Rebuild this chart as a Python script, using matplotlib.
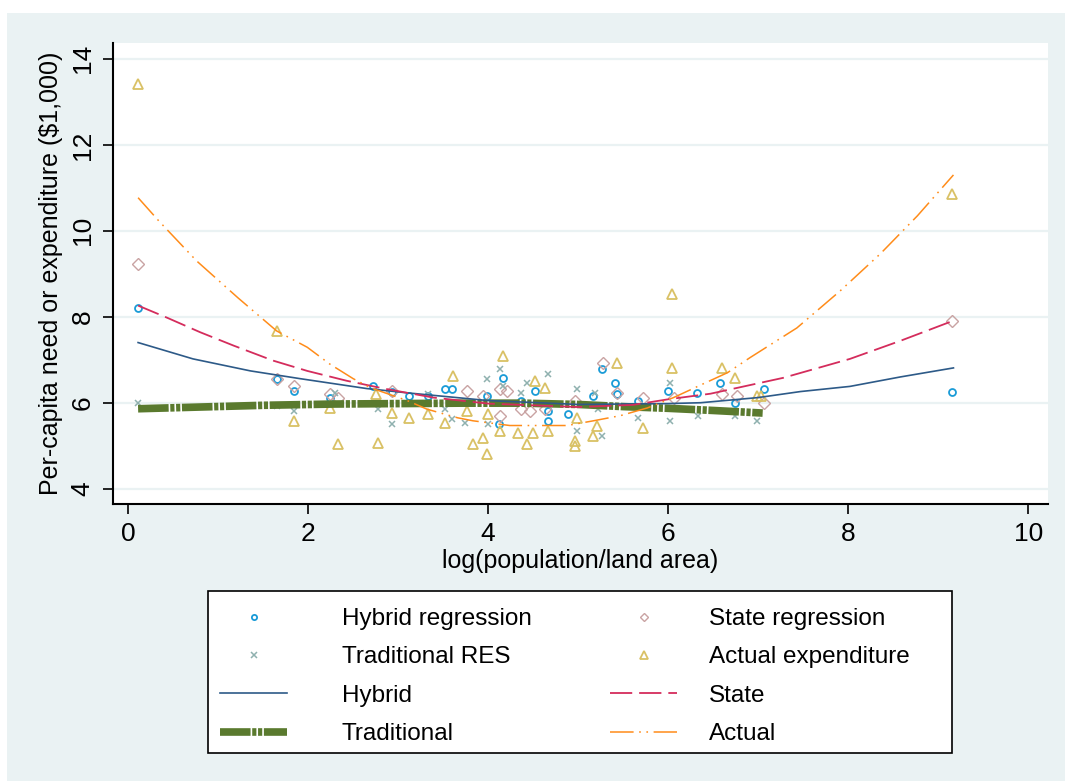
import matplotlib
matplotlib.use('Agg')
import matplotlib.pyplot as plt
from matplotlib.patches import Rectangle

# scatter: predicted / actual per-capita values by county
hybrid_x = [0.11, 1.65, 1.84, 2.24, 2.72, 2.93, 3.12, 3.33, 3.52, 3.6, 3.99, 4.16, 4.12, 4.36,
            4.52, 4.66, 4.67, 4.89, 5.17, 5.27, 5.41, 5.43, 5.66, 6.0, 6.32, 6.58, 6.74, 7.06, 9.15]
hybrid_y = [8.2, 6.56, 6.28, 6.12, 6.4, 6.25, 6.16, 6.15, 6.33, 6.33, 6.16, 6.58, 5.51, 6.05,
            6.28, 5.81, 5.58, 5.74, 6.16, 6.79, 6.47, 6.21, 6.05, 6.28, 6.23, 6.47, 6.0, 6.33, 6.25]

state_x = [0.11, 1.65, 1.84, 2.24, 2.33, 2.93, 3.77, 3.94, 4.13, 4.21, 4.13, 4.36, 4.47, 4.63,
           4.97, 5.28, 5.43, 5.72, 6.06, 6.6, 6.77, 7.06, 9.15]
state_y = [9.22, 6.56, 6.4, 6.2, 6.1, 6.28, 6.28, 6.16, 6.33, 6.28, 5.7, 5.86, 5.81, 5.86,
           6.05, 6.93, 6.23, 6.1, 6.12, 6.2, 6.16, 6.0, 7.9]

trad_x = [0.11, 1.65, 1.84, 2.3, 2.78, 2.93, 3.33, 3.52, 3.6, 3.74, 3.99, 4.0, 4.13, 4.16, 4.36,
          4.43, 4.67, 4.99, 4.99, 5.19, 5.22, 5.27, 5.67, 6.02, 6.02, 6.33, 6.74, 6.99]
trad_y = [6.0, 5.93, 5.8, 6.23, 5.86, 5.51, 6.21, 5.86, 5.63, 5.53, 6.56, 5.51, 6.79, 6.4, 6.23,
          6.47, 6.67, 6.33, 5.35, 6.23, 5.86, 5.23, 5.65, 6.47, 5.58, 5.7, 5.7, 5.58]

actual_x = [0.11, 1.65, 1.84, 2.24, 2.33, 2.75, 2.78, 2.93, 3.12, 3.33, 3.52, 3.61, 3.77, 3.83,
            3.94, 3.99, 4.0, 4.13, 4.16, 4.33, 4.43, 4.5, 4.52, 4.63, 4.66, 4.97, 4.97, 4.99,
            5.16, 5.21, 5.43, 5.72, 6.04, 6.04, 6.6, 6.74, 6.99, 7.03, 9.15]
actual_y = [13.42, 7.67, 5.58, 5.88, 5.05, 6.2, 5.07, 5.77, 5.65, 5.74, 5.53, 6.63, 5.81, 5.05,
            5.19, 4.81, 5.74, 5.35, 7.09, 5.3, 5.05, 5.3, 6.51, 6.35, 5.35, 5.12, 5.0, 5.65,
            5.23, 5.47, 6.93, 5.42, 8.53, 6.81, 6.81, 6.58, 6.16, 6.16, 10.85]

# fitted lines
hyb_fit_x = [0.11, 0.72, 1.36, 1.91, 2.65, 3.1, 4.0, 5.0, 6.0, 6.36, 7.0, 7.47, 8.02, 8.58, 9.17]
hyb_fit_y = [7.4, 7.02, 6.74, 6.56, 6.33, 6.23, 6.05, 5.96, 5.98, 6.0, 6.12, 6.26, 6.38, 6.6, 6.81]

state_fit_x = [0.11, 0.43, 0.8, 1.17, 1.61, 1.99, 2.43, 2.84, 3.39, 4.0, 5.0, 5.61, 6.0, 6.47,
               7.28, 8.02, 8.58, 9.17]
state_fit_y = [8.26, 7.98, 7.64, 7.33, 6.98, 6.74, 6.51, 6.33, 6.12, 5.98, 5.9, 5.95, 6.08, 6.21,
               6.58, 7.02, 7.44, 7.91]

trad_fit_x = [0.11, 0.8, 1.5, 2.3, 3.0, 3.7, 4.4, 5.0, 5.5, 6.0, 6.5, 7.05]
trad_fit_y = [5.86, 5.9, 5.94, 5.97, 5.98, 5.99, 5.99, 5.96, 5.91, 5.87, 5.82, 5.76]

act_fit_x = [0.11, 0.34, 0.76, 1.22, 1.65, 1.99, 2.24, 2.5, 2.69, 3.1, 3.32, 3.66, 3.83, 4.24,
             4.58, 4.88, 5.17, 5.47, 5.77, 6.06, 6.39, 6.66, 6.91, 7.43, 7.91, 8.36, 8.77, 9.17]
act_fit_y = [10.77, 10.23, 9.3, 8.44, 7.67, 7.29, 6.9, 6.56, 6.35, 6.05, 5.85, 5.65, 5.58, 5.47,
             5.47, 5.47, 5.58, 5.7, 5.88, 6.12, 6.44, 6.7, 7.05, 7.74, 8.6, 9.47, 10.35, 11.3]

xticks = [0, 2, 4, 6, 8, 10]
yticks = [4, 6, 8, 10, 12, 14]

plt.rcParams['font.family'] = ['Liberation Sans', 'DejaVu Sans']
plt.rcParams['lines.scale_dashes'] = False

bg = '#eaf2f3'
fig = plt.figure(figsize=(10.65, 7.81), dpi=100, facecolor='white')
fig.patches.append(Rectangle((7 / 1065, 0), 1, 1 - 13 / 781, transform=fig.transFigure,
                             facecolor=bg, edgecolor='none', zorder=-10))

ax = fig.add_axes([0.106, 0.355, 0.878, 0.590])
ax.set_facecolor('white')

ax.plot(hybrid_x, hybrid_y, 'o', ms=5, mfc='none', mec='#1a9bd7', mew=1.3, label='Hybrid regression')
ax.plot(state_x, state_y, 'D', ms=6, mfc='none', mec='#c9a3a3', mew=1.0, label='State regression')
ax.plot(trad_x, trad_y, 'x', ms=5, mec='#8fb1af', mew=1.1, label='Traditional RES')
ax.plot(actual_x, actual_y, '^', ms=7, mfc='none', mec='#d9c165', mew=1.3, label='Actual expenditure')

ax.plot(trad_fit_x, trad_fit_y, color='#5a7a2e', lw=5.5, dashes=(22, 1.2, 3, 1.2, 3, 1.2),
        solid_capstyle='butt', dash_capstyle='butt', label='Traditional')
ax.plot(hyb_fit_x, hyb_fit_y, color='#2d5a88', lw=1.2, label='Hybrid')
ax.plot(state_fit_x, state_fit_y, color='#d42c5c', lw=1.3, dashes=(16, 5), label='State')
ax.plot(act_fit_x, act_fit_y, color='#ff8c1a', lw=1.1, dashes=(17, 4, 1.2, 4, 1.2, 4), label='Actual')

ax.set_xlim(-0.17, 10.22)
ax.set_ylim(3.65, 14.37)
ax.set_xticks(xticks)
ax.set_yticks(yticks)
ax.set_xticklabels([str(t) for t in xticks], fontsize=19)
ax.set_yticklabels([str(t) for t in yticks], fontsize=19, rotation=90, va='center')
ax.tick_params(direction='out', length=7, width=1.2, color='black', pad=6)
ax.yaxis.grid(True, color=bg, lw=1.6)
ax.set_axisbelow(True)
for s in ['top', 'right']:
    ax.spines[s].set_visible(False)
for s in ['left', 'bottom']:
    ax.spines[s].set_linewidth(1.5)
    ax.spines[s].set_color('black')

ax.set_xlabel('log(population/land area)', fontsize=18, labelpad=2)
ax.set_ylabel('Per-capita need or expenditure (\\$1,000)', fontsize=18, labelpad=6)

# legend box drawn by hand so it spans the same area as the original
fig.patches.append(Rectangle((208 / 1065, 1 - 753 / 781), 744 / 1065, 162 / 781,
                             transform=fig.transFigure, facecolor='white', edgecolor='black',
                             lw=1.2, zorder=-5))

h = dict(zip([l.get_label() for l in ax.lines], ax.lines))
col1 = ['Hybrid regression', 'Traditional RES', 'Hybrid', 'Traditional']
col2 = ['State regression', 'Actual expenditure', 'State', 'Actual']
leg_kw = dict(loc='upper left', fontsize=17.5, frameon=False, handlelength=2.75,
              labelspacing=0.67, borderpad=0.5, numpoints=1, markerscale=0.75, borderaxespad=0)
fig.legend([h[k] for k in col1], col1, bbox_to_anchor=(208 / 1065, 1 - 596 / 781),
           handletextpad=2.26, **leg_kw)
fig.legend([h[k] for k in col2], col2, bbox_to_anchor=(598 / 1065, 1 - 596 / 781),
           handletextpad=1.32, **leg_kw)

fig.savefig('out.png', dpi=100, facecolor=fig.get_facecolor())
